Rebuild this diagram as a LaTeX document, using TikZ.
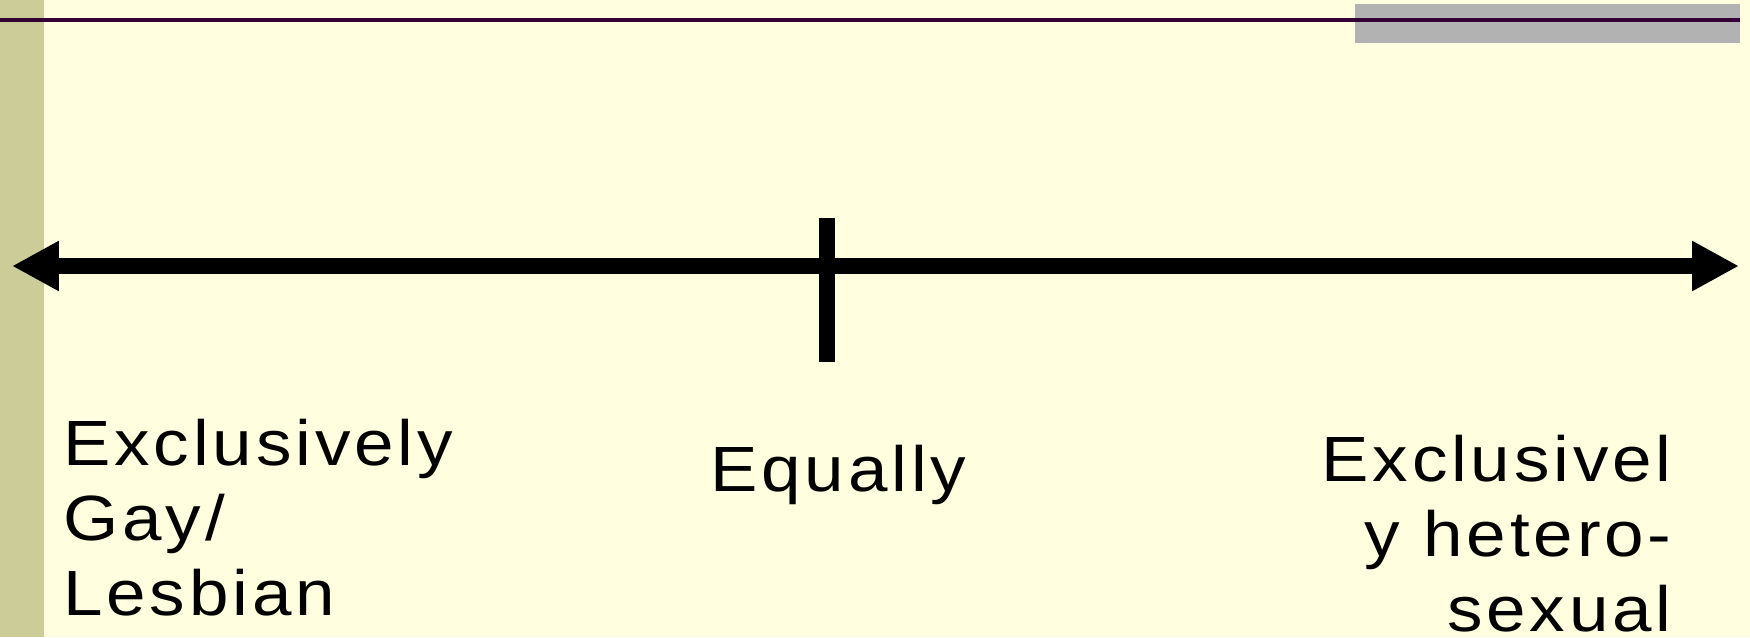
\documentclass[tikz,border=0pt]{standalone}
\usepackage{fontspec}
\setmainfont{Liberation Sans}[LetterSpace=6, FakeStretch=1.11]
\definecolor{slidebg}{RGB}{255, 255, 224}
\definecolor{slidebar}{RGB}{204, 204, 153}
\definecolor{slideline}{RGB}{51, 0, 51}
\definecolor{slidegray}{RGB}{178, 178, 178}
\usetikzlibrary{arrows.meta, positioning}

\begin{document}
\begin{tikzpicture}[x=0.02cm, y=-0.02cm,
        lbl/.style={inner sep=0pt, align=left, font=\fontsize{36.4pt}{42.6pt}\selectfont},
        scalearr/.style={line width=0.32cm, {Triangle[length=0.94cm, width=0.94cm]}-{Triangle[length=0.94cm, width=0.94cm]}}
      ]
        % slide background
        \fill[slidebg] (0,0) rectangle (1750,637);
        \fill[slidebar] (0,0) rectangle (44,637);
        \fill[slidegray] (1355,4) rectangle (1740,43);
        \fill[slideline] (0,18) rectangle (1740,22);

        \useasboundingbox (0,0) rectangle (1750,637);

        % the scale
        \coordinate (lend) at (12,266);
        \coordinate (rend) at (1739,266);
        \coordinate (ttop) at (827,218);
        \coordinate (tbot) at (827,362);
        \draw[scalearr] (lend) -- (rend);
        \draw[line width=0.32cm] (ttop) -- (tbot);

        \node[lbl, anchor=north west] (gay) at (63,419) {Exclusively\\Gay/\\Lesbian};
        \node[lbl, anchor=north west] (equal) at (710,445) {Equally};
        \node[lbl, anchor=north east, align=right] (het) at (1672,435) {Exclusivel\\y hetero-\\sexual};
      \end{tikzpicture}
\end{document}
